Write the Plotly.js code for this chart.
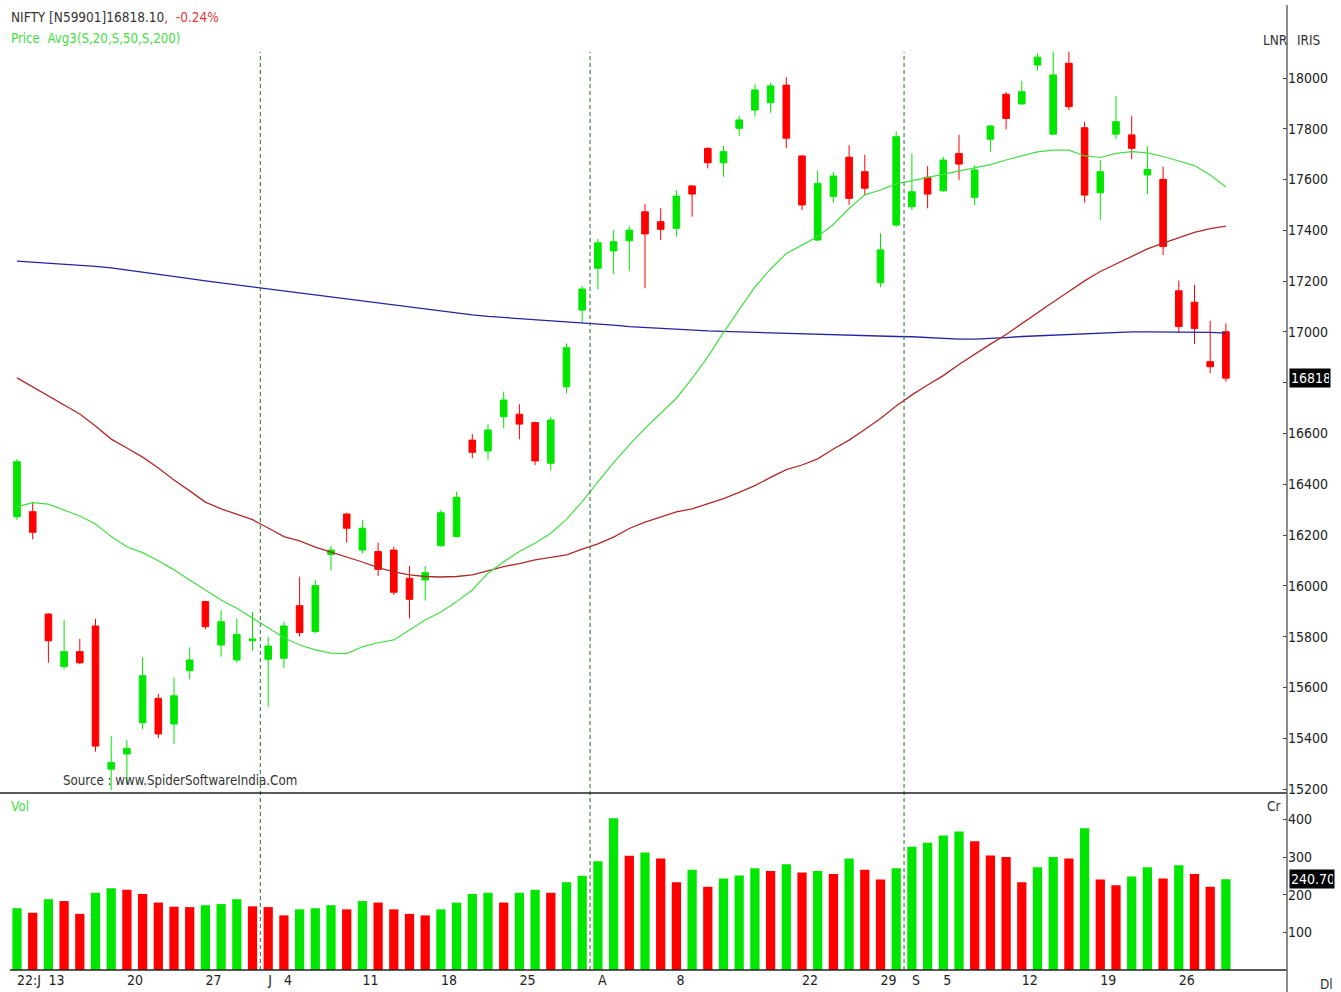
<!DOCTYPE html>
<html><head><meta charset="utf-8">
<script src="https://cdn.plot.ly/plotly-3.0.1.min.js"></script>
<style>html,body{margin:0;padding:0;background:#fff;}#chart{width:1341px;height:992px;}</style>
</head><body><div id="chart"></div>
<script>
// ---- data ----
const dates = [
 '2022-06-09','2022-06-10','2022-06-13','2022-06-14','2022-06-15','2022-06-16','2022-06-17','2022-06-20','2022-06-21','2022-06-22','2022-06-23','2022-06-24','2022-06-27','2022-06-28','2022-06-29','2022-06-30',
 '2022-07-01','2022-07-04','2022-07-05','2022-07-06','2022-07-07','2022-07-08','2022-07-11','2022-07-12','2022-07-13','2022-07-14','2022-07-15','2022-07-18','2022-07-19','2022-07-20','2022-07-21','2022-07-22','2022-07-25','2022-07-26','2022-07-27','2022-07-28','2022-07-29',
 '2022-08-01','2022-08-02','2022-08-03','2022-08-04','2022-08-05','2022-08-08','2022-08-10','2022-08-11','2022-08-12','2022-08-16','2022-08-17','2022-08-18','2022-08-19','2022-08-22','2022-08-23','2022-08-24','2022-08-25','2022-08-26','2022-08-29','2022-08-30',
 '2022-09-01','2022-09-02','2022-09-05','2022-09-06','2022-09-07','2022-09-08','2022-09-09','2022-09-12','2022-09-13','2022-09-14','2022-09-15','2022-09-16','2022-09-19','2022-09-20','2022-09-21','2022-09-22','2022-09-23','2022-09-26','2022-09-27','2022-09-28','2022-09-29'
];
const openPx = [16272,16292,15889,15682,15741,15842,15278,15338,15461,15557,15456,15666,15938,15767,15708,15784,
 15711,15715,15922,15820,16124,16283,16141,16135,16141,16030,16023,16158,16194,16574,16531,16666,16676,16643,16483,16784,17086,
 17251,17319,17359,17473,17434,17408,17575,17723,17666,17802,17874,17903,17972,17693,17362,17533,17688,17631,17194,17421,
 17493,17609,17556,17703,17530,17759,17936,17898,18051,17779,18058,17804,17548,17779,17776,17618,17601,17162,17117,16883,17001];
const highPx = [16500,16331,15892,15866,15791,15870,15410,15393,15719,15574,15640,15758,15940,15905,15872,15898,
 15800,15859,16036,16023,16157,16288,16259,16170,16154,16078,16078,16299,16371,16598,16636,16765,16715,16647,16666,16955,17181,
 17366,17401,17417,17504,17487,17559,17579,17727,17732,17850,17976,17981,18003,17697,17635,17631,17736,17697,17388,17789,
 17703,17653,17690,17776,17657,17815,17945,17989,18097,18104,18104,17828,17677,17929,17850,17732,17651,17202,17185,17044,17034];
const lowPx = [16259,16183,15697,15671,15692,15347,15196,15216,15435,15400,15377,15632,15829,15721,15697,15745,
 15524,15675,15800,15813,16060,16170,16128,16039,15964,15872,15942,16154,16192,16502,16498,16620,16577,16476,16454,16758,17036,
 17168,17228,17241,17172,17362,17375,17454,17644,17611,17772,17848,17863,17723,17480,17358,17509,17500,17539,17176,17414,
 17480,17487,17552,17598,17500,17710,17798,17894,18029,17779,17874,17509,17441,17759,17680,17543,17303,16995,16953,16837,16804];
const closePx = [16489,16211,15784,15741,15697,15369,15304,15360,15646,15417,15567,15708,15839,15859,15809,15791,
 15763,15842,15816,16001,16141,16227,16227,16065,15975,15947,16052,16288,16349,16526,16614,16732,16637,16492,16653,16938,17169,
 17351,17355,17401,17386,17404,17535,17543,17666,17710,17835,17953,17969,17763,17500,17585,17614,17526,17566,17323,17769,
 17552,17543,17677,17661,17638,17811,17841,17946,18082,18012,17887,17539,17631,17828,17723,17640,17336,17021,17014,16863,16818.10];
const volume = [164,152,188,183,149,205,217,213,202,179,168,167,172,175,188,169,
 167,145,161,164,172,161,183,179,161,149,145,161,179,202,205,179,205,213,205,233,250,
 289,403,303,312,296,233,266,221,243,251,270,263,281,259,263,255,296,266,240,270,
 327,338,357,368,342,304,300,233,273,300,296,376,240,225,248,273,243,278,255,221,240.70];
const ma20 = [16311,16328,16322,16299,16275,16244,16194,16154,16131,16099,16063,16023,15984,15944,15912,15872,
 15835,15796,15767,15748,15735,15733,15760,15776,15787,15826,15866,15897,15938,15984,16050,16095,16135,16168,16207,16262,16332,
 16410,16485,16555,16620,16680,16739,16817,16902,16998,17088,17177,17248,17309,17342,17376,17423,17486,17540,17559,17583,
 17596,17610,17622,17636,17648,17659,17677,17693,17709,17716,17716,17693,17687,17703,17710,17705,17691,17673,17655,17618,17571];
const ma50 = [16819,16783,16748,16712,16677,16630,16578,16543,16507,16464,16417,16374,16330,16303,16283,16261,
 16228,16194,16177,16153,16133,16114,16094,16072,16055,16043,16037,16035,16037,16043,16059,16076,16088,16102,16112,16122,16145,
 16165,16192,16226,16251,16271,16291,16303,16322,16344,16368,16395,16427,16458,16476,16500,16539,16574,16616,16659,16708,
 16752,16791,16828,16872,16913,16952,16990,17033,17077,17118,17159,17201,17238,17268,17297,17327,17350,17372,17392,17407,17417];
const ma200 = [17279,17275,17271,17268,17264,17258,17252,17244,17236,17226,17218,17210,17201,17193,17185,17177,
 17169,17161,17153,17145,17138,17130,17122,17114,17106,17098,17090,17082,17075,17067,17061,17057,17053,17049,17043,17039,17035,
 17031,17027,17021,17017,17014,17010,17006,17004,17002,17000,16998,16996,16995,16994,16992,16990,16988,16986,16984,16982,
 16981,16978,16974,16972,16972,16974,16978,16982,16985,16988,16990,16992,16994,16998,17000,17000,17000,17000,17000,16998,16995];
const tickDates = ['2022-06-09','2022-06-13','2022-06-20','2022-06-27','2022-07-01','2022-07-04','2022-07-11','2022-07-18','2022-07-25',
 '2022-08-01','2022-08-08','2022-08-22','2022-08-29','2022-09-01','2022-09-05','2022-09-12','2022-09-19','2022-09-26'];
const tickLabels = ['22:J','13','20','27','J','4','11','18','25','A','8','22','29','S','5','12','19','26'];
const priceTicks = [15200,15400,15600,15800,16000,16200,16400,16600,16800,17000,17200,17400,17600,17800,18000];
const volTicks = [100,200,300,400];

// ---- helpers ----
const idx = dates.map((d, i) => i);
const GREEN = '#00e600', RED = '#ff0000';
const W = 1287, H = 970;
const px = x => x / W;
const py = y => (H - y) / H;
const FONT = 'Liberation Sans Narrow, DejaVu Sans Condensed, Arial Narrow, sans-serif';
const volColors = volume.map((v, i) => (i === 0 || v > volume[i - 1]) ? GREEN : RED);
const lastClose = closePx[closePx.length - 1];
const lastVol = volume[volume.length - 1];

const monthBreaks = [];
for (let i = 1; i < dates.length; i++) {
  if (dates[i].slice(5, 7) !== dates[i - 1].slice(5, 7)) monthBreaks.push(i - 0.5);
}

const traces = [
  {type: 'candlestick', x: idx, open: openPx, high: highPx, low: lowPx, close: closePx,
   increasing: {line: {color: GREEN, width: 1}, fillcolor: GREEN},
   decreasing: {line: {color: RED, width: 1}, fillcolor: RED},
   whiskerwidth: 0, xaxis: 'x', yaxis: 'y', hoverinfo: 'skip'},
  {type: 'scatter', mode: 'lines', x: idx, y: ma200, line: {color: '#2424a0', width: 1.3}, xaxis: 'x', yaxis: 'y', hoverinfo: 'skip'},
  {type: 'scatter', mode: 'lines', x: idx, y: ma50, line: {color: '#b02a2a', width: 1.3}, xaxis: 'x', yaxis: 'y', hoverinfo: 'skip'},
  {type: 'scatter', mode: 'lines', x: idx, y: ma20, line: {color: '#44dd44', width: 1.2}, xaxis: 'x', yaxis: 'y', hoverinfo: 'skip'},
  {type: 'bar', x: idx, y: volume, marker: {color: volColors, line: {width: 0}}, xaxis: 'x', yaxis: 'y2', hoverinfo: 'skip'}
];

const shapes = [];
monthBreaks.forEach(b => {
  shapes.push({type: 'line', xref: 'x', yref: 'paper', x0: b, x1: b, y0: 0, y1: py(52),
    line: {color: '#3c7a3c', width: 1.1, dash: '4px,3px'}});
});
shapes.push({type: 'line', xref: 'paper', yref: 'paper', x0: 0, x1: 1, y0: py(793), y1: py(793), line: {color: '#222', width: 1.5}});
shapes.push({type: 'line', xref: 'paper', yref: 'paper', x0: px(10), x1: 1, y0: 0, y1: 0, line: {color: '#222', width: 1.5}});
shapes.push({type: 'line', xref: 'paper', yref: 'paper', x0: 1, x1: 1, y0: py(995), y1: py(5), line: {color: '#666', width: 1.5}});

const ann = (text, x, y, color, size) => ({text, xref: 'paper', yref: 'paper', x: px(x), y: py(y),
  xanchor: 'left', yanchor: 'middle', showarrow: false, font: {family: FONT, size: size || 13.5, color: color || '#333'}});

const annotations = [
  ann('NIFTY [N59901]16818.10<span style="color:#e03a3a">,&nbsp;&nbsp;-0.24%</span>', 9, 17, '#333', 13.5),
  ann('Price&nbsp;&nbsp;Avg3(S,20,S,50,S,200)', 9, 39, '#44dd44', 13.2),
  ann('LNR', 1261, 40, '#333', 13.5),
  ann('IRIS', 1295, 40, '#333', 13.5),
  ann('Source : www.SpiderSoftwareIndia.Com', 61, 780, '#333', 13.2),
  ann('Vol', 9, 806, '#44dd44', 13.5),
  ann('Cr', 1265, 806, '#333', 13.5),
  ann('Dl', 1318, 984, '#333', 13.5),
  {text: lastClose.toFixed(2), xref: 'paper', yref: 'y', x: px(1289), y: lastClose,
   xanchor: 'left', yanchor: 'middle', showarrow: false, bgcolor: '#000', borderpad: 1, width: 38, align: 'left',
   font: {family: FONT, size: 14, color: '#fff'}},
  {text: lastVol.toFixed(2), xref: 'paper', yref: 'y2', x: px(1289), y: lastVol,
   xanchor: 'left', yanchor: 'middle', showarrow: false, bgcolor: '#000', borderpad: 1, width: 42, align: 'left',
   font: {family: FONT, size: 14, color: '#fff'}}
];

const layout = {
  width: 1341, height: 992,
  margin: {l: 0, r: 54, t: 0, b: 22, pad: 0},
  paper_bgcolor: '#fff', plot_bgcolor: '#fff',
  showlegend: false, dragmode: false, hovermode: false,
  bargap: 0.41, boxgap: 0.4,
  font: {family: FONT, size: 14, color: '#222'},
  xaxis: {type: 'linear', range: [-1.083, 80.892], anchor: 'y2',
    tickvals: tickDates.map(d => dates.indexOf(d)), ticktext: tickLabels,
    ticks: '', showgrid: false, zeroline: false, showline: false,
    ticklabelposition: 'outside right', tickfont: {family: FONT, size: 14, color: '#222'},
    rangeslider: {visible: false}, fixedrange: true},
  yaxis: {domain: [0.18247, 1], range: [15184.3, 18307.2], side: 'right', anchor: 'x',
    tickvals: priceTicks, ticktext: priceTicks.map(v => Math.abs(v - lastClose) < 40 ? '' : String(v)),
    ticks: 'inside', ticklen: 4, tickcolor: '#444',
    showgrid: false, zeroline: false, showline: false, tickfont: {family: FONT, size: 14, color: '#222'}, fixedrange: true},
  yaxis2: {domain: [0, 0.18041], range: [0, 464.6], side: 'right', anchor: 'x',
    tickvals: volTicks, ticktext: volTicks.map(String), ticks: 'inside', ticklen: 4, tickcolor: '#444',
    showgrid: false, zeroline: false, showline: false, tickfont: {family: FONT, size: 14, color: '#222'}, fixedrange: true},
  shapes, annotations
};

Plotly.newPlot('chart', traces, layout, {displayModeBar: false, staticPlot: true});
</script>
</body></html>
